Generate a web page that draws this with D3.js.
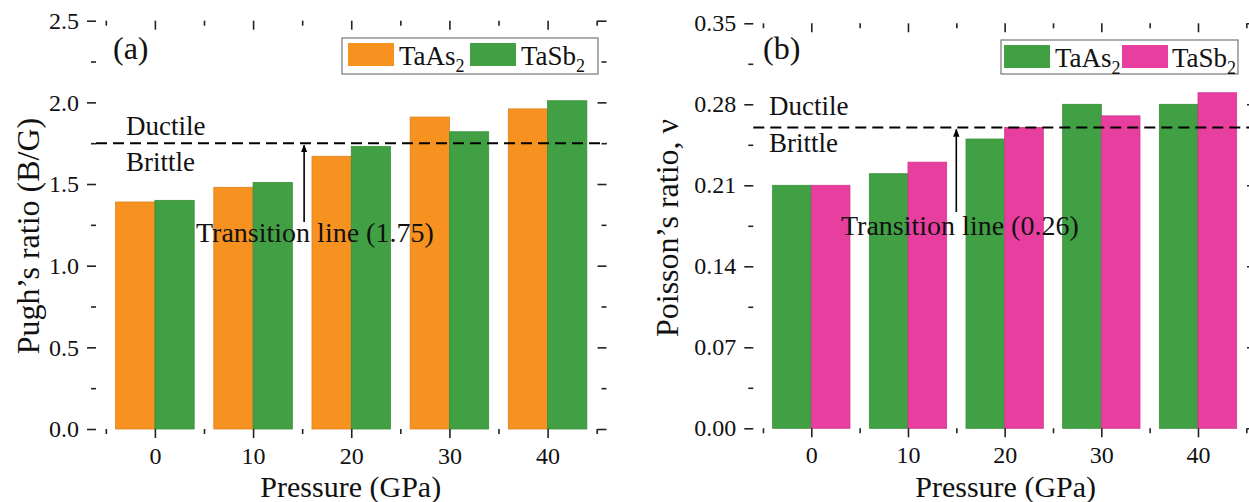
<!DOCTYPE html>
<html>
<head>
<meta charset="utf-8">
<script src="https://cdn.jsdelivr.net/npm/d3@7"></script>
<style>
  body { margin: 0; background: #fff; }
  svg text { font-family: "Liberation Serif", "Times New Roman", serif; fill: #111; }
  svg .tick text { font-size: 24px; }
</style>
</head>
<body>
<div id="chart"></div>
<script>
// pressures (GPa)
const pressures = [0, 10, 20, 30, 40];
const xTicks = [0, 10, 20, 30, 40];

// (a) Pugh's ratio B/G
const pughTaAs2 = [1.39, 1.48, 1.67, 1.91, 1.96];
const pughTaSb2 = [1.40, 1.51, 1.73, 1.82, 2.01];
const pughTicks = [0.0, 0.5, 1.0, 1.5, 2.0, 2.5];
const pughLine = 1.75;

// (b) Poisson's ratio
const poisTaAs2 = [0.21, 0.22, 0.25, 0.28, 0.28];
const poisTaSb2 = [0.21, 0.23, 0.26, 0.27, 0.29];
const poisTicks = [0.00, 0.07, 0.14, 0.21, 0.28, 0.35];
const poisLine = 0.26;

const width = 1249, height = 502;

const svg = d3.select('#chart').append('svg')
  .attr('width', width)
  .attr('height', height);

svg.append('defs').append('marker')
  .attr('id', 'arrow')
  .attr('viewBox', '0 0 10 10')
  .attr('refX', 9).attr('refY', 5)
  .attr('markerWidth', 5).attr('markerHeight', 5)
  .attr('markerUnits', 'strokeWidth')
  .attr('orient', 'auto')
  .append('path')
  .attr('d', 'M0,1 L10,5 L0,9 Z')
  .attr('fill', '#000');

function drawPanel(p) {
  const g = svg.append('g');
  const x = d3.scaleLinear().domain([-6, 46]).range([p.left, p.right]);
  const y = d3.scaleLinear().domain([0, p.ymax]).range([p.bottom, p.top]);
  const barW = 4;

  // bars
  const series = [
    { vals: p.s1, color: p.c1, off: -barW },
    { vals: p.s2, color: p.c2, off: 0 }
  ];
  series.forEach(s => {
    g.selectAll(null)
      .data(pressures.map((d, i) => ({ x: d, v: s.vals[i] })))
      .enter().append('rect')
      .attr('x', d => x(d.x + s.off))
      .attr('width', d => x(d.x + s.off + barW) - x(d.x + s.off))
      .attr('y', d => y(d.v))
      .attr('height', d => y(0) - y(d.v))
      .attr('fill', s.color)
      .attr('stroke', d3.color(s.color).darker(0.3))
      .attr('stroke-width', 0.8);
  });

  // dashed transition line
  g.append('line')
    .attr('x1', x(-6)).attr('x2', x(46))
    .attr('y1', y(p.line)).attr('y2', y(p.line))
    .attr('stroke', '#000')
    .attr('stroke-width', 2)
    .attr('stroke-dasharray', '11,6');

  // arrow
  g.append('line')
    .attr('x1', x(p.arrowX)).attr('x2', x(p.arrowX))
    .attr('y1', p.arrowY0).attr('y2', y(p.line) + 2)
    .attr('stroke', '#000')
    .attr('stroke-width', 1.6)
    .attr('marker-end', 'url(#arrow)');

  const minorX = d3.range(-5, 46, 10);
  const minorY = d3.range(p.ymax / 10, p.ymax, p.ymax / 5);

  // axes
  const bottom = g.append('g').attr('transform', `translate(0,${p.bottom})`)
    .call(d3.axisBottom(x).tickValues(xTicks).tickSize(9).tickPadding(9));
  bottom.append('g').call(d3.axisBottom(x).tickValues(minorX).tickSize(5).tickFormat(''));
  const top = g.append('g').attr('transform', `translate(0,${p.top})`)
    .call(d3.axisTop(x).tickValues(xTicks).tickSize(-9).tickFormat(''));
  top.append('g').call(d3.axisTop(x).tickValues(minorX).tickSize(-5).tickFormat(''));
  const left = g.append('g').attr('transform', `translate(${p.left},0)`)
    .call(d3.axisLeft(y).tickValues(p.yTicks).tickSize(9).tickPadding(8).tickFormat(d3.format(p.fmt)));
  left.append('g').call(d3.axisLeft(y).tickValues(minorY).tickSize(5).tickFormat(''));
  const right = g.append('g').attr('transform', `translate(${p.right},0)`)
    .call(d3.axisRight(y).tickValues(p.yTicks).tickSize(-9).tickFormat(''));
  right.append('g').call(d3.axisRight(y).tickValues(minorY).tickSize(-5).tickFormat(''));

  g.selectAll('.domain').attr('stroke', '#222').attr('stroke-width', 1.8);
  g.selectAll('.tick line').attr('stroke', '#222').attr('stroke-width', 1.6);
  [bottom, left].forEach(a => a.selectAll('.tick text')
    .attr('fill', '#111'));
  // hide inner duplicate domains
  [top, right, bottom, left].forEach(a => a.selectAll('g .domain').attr('stroke', 'none'));

  // axis titles
  g.append('text')
    .attr('x', (p.left + p.right) / 2 + p.xTitleDx).attr('y', 497)
    .attr('text-anchor', 'middle')
    .attr('font-size', 30)
    .text('Pressure (GPa)');
  g.append('text')
    .attr('transform', `translate(${p.yTitleX},${p.yTitleY}) rotate(-90)`)
    .attr('text-anchor', 'middle')
    .attr('dy', '0.35em')
    .attr('font-size', 32)
    .text(p.yTitle);

  // panel label and annotations
  g.append('text').attr('x', p.labelX).attr('y', 59).attr('font-size', 32).text(p.label);
  g.append('text').attr('x', p.annX).attr('y', p.ductY).attr('font-size', 27).text('Ductile');
  g.append('text').attr('x', p.annX).attr('y', p.britY).attr('font-size', 27).text('Brittle');
  g.append('text').attr('x', p.transX).attr('y', p.transY).attr('font-size', 28)
    .text(`Transition line (${p.lineLabel})`);

  // legend
  const lg = g.append('g');
  lg.append('rect')
    .attr('x', p.leg.x0).attr('y', p.leg.y0)
    .attr('width', p.leg.x1 - p.leg.x0).attr('height', p.leg.y1 - p.leg.y0)
    .attr('fill', '#fff').attr('stroke', '#777').attr('stroke-width', 1.2);
  const items = [
    { name: 'TaAs', color: p.c1, sx: p.leg.s1, tx: p.leg.t1 },
    { name: 'TaSb', color: p.c2, sx: p.leg.s2, tx: p.leg.t2 }
  ];
  items.forEach(it => {
    lg.append('rect')
      .attr('x', it.sx).attr('y', p.leg.y0 + 5)
      .attr('width', 46).attr('height', 23)
      .attr('fill', it.color);
    const t = lg.append('text').attr('x', it.tx).attr('y', p.leg.y0 + 27).attr('font-size', 27);
    t.append('tspan').text(it.name);
    t.append('tspan').attr('font-size', 18).attr('dy', 7).text('2');
  });
}

const orange = '#f7911f', green = '#40a043', pink = '#e83e9f';

drawPanel({
  left: 96, right: 606.5, top: 20.7, bottom: 429,
  ymax: 2.5, yTicks: pughTicks, fmt: '.1f',
  s1: pughTaAs2, s2: pughTaSb2, c1: orange, c2: green,
  line: pughLine, lineLabel: '1.75', arrowX: 15.2, arrowY0: 222,
  yTitle: 'Pugh\u2019s ratio (B/G)', yTitleX: 28, yTitleY: 236, xTitleDx: -0.5,
  label: '(a)', labelX: 113, annX: 126, ductY: 135, britY: 171,
  transX: 196, transY: 242,
  leg: { x0: 342, x1: 598, y0: 38, y1: 74, s1: 348, t1: 399, s2: 470, t2: 521 }
});

drawPanel({
  left: 753.3, right: 1256, top: 23.3, bottom: 428.3,
  ymax: 0.35, yTicks: poisTicks, fmt: '.2f',
  s1: poisTaAs2, s2: poisTaSb2, c1: green, c2: pink,
  line: poisLine, lineLabel: '0.26', arrowX: 15, arrowY0: 212,
  yTitle: 'Poisson\u2019s ratio, \u03bd', yTitleX: 667, yTitleY: 228, xTitleDx: 1,
  label: '(b)', labelX: 763, annX: 769, ductY: 115, britY: 152,
  transX: 841, transY: 235,
  leg: { x0: 1001, x1: 1238, y0: 40, y1: 74, s1: 1004, t1: 1055, s2: 1122, t2: 1172 }
});
</script>
</body>
</html>
